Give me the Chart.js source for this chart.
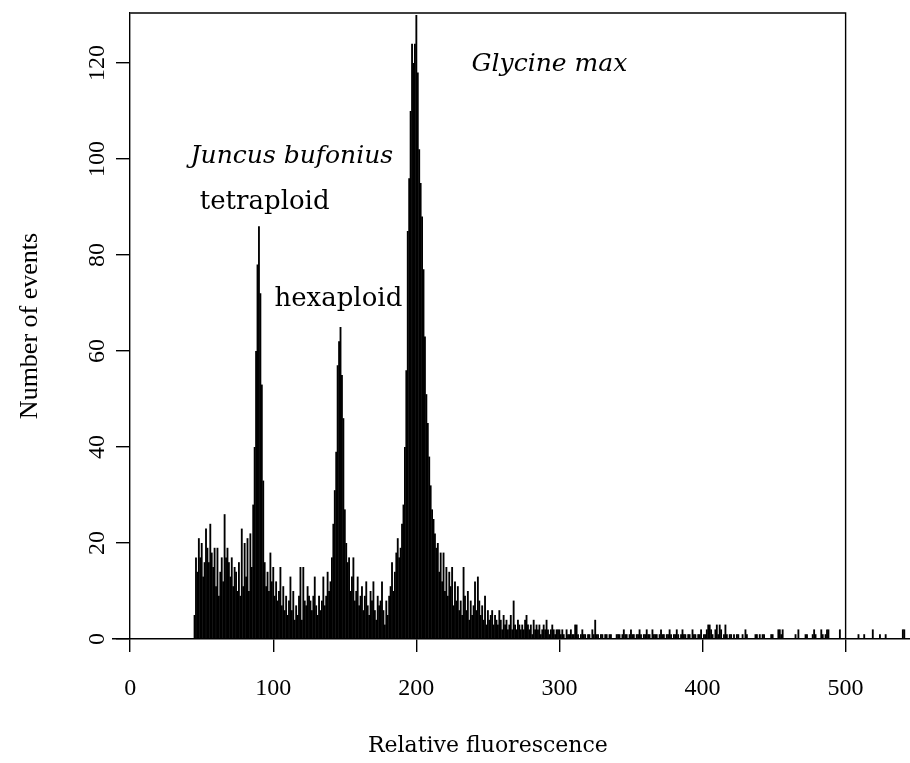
<!DOCTYPE html>
<html>
<head>
<meta charset="utf-8">
<script src="https://cdn.jsdelivr.net/npm/chart.js@4"></script>
<style>
  html, body { margin: 0; padding: 0; background: #fff; }
  #wrap { width: 910px; height: 763px; }
</style>
</head>
<body>
<div id="wrap"><canvas id="c" width="910" height="763"></canvas></div>
<script>
// ---- data ----
const firstChannel = 45;
// counts per channel, channels 45..299
const countsMain = [
  5, 17, 14, 21, 17, 20, 13, 16, 23, 19,
  16, 24, 18, 15, 19, 11, 19, 9, 14, 17,
  12, 26, 17, 19, 16, 13, 17, 11, 15, 14,
  10, 16, 9, 23, 11, 20, 13, 21, 10, 22,
  15, 28, 40, 60, 78, 86, 72, 53, 33, 16,
  11, 14, 10, 18, 12, 15, 9, 12, 8, 10,
  15, 7, 11, 6, 9, 5, 8, 13, 6, 10,
  4, 7, 5, 9, 15, 4, 15, 8, 7, 11,
  9, 8, 6, 9, 13, 7, 5, 9, 6, 8,
  13, 7, 9, 14, 10, 12, 17, 24, 31, 39,
  57, 62, 65, 55, 46, 27, 20, 16, 17, 10,
  13, 17, 8, 10, 13, 7, 9, 11, 6, 9,
  12, 7, 5, 10, 8, 12, 6, 4, 9, 7,
  8, 12, 6, 3, 8, 5, 9, 11, 16, 10,
  14, 18, 21, 17, 19, 24, 28, 40, 56, 85,
  96, 110, 124, 120, 124, 130, 118, 102, 95, 88,
  77, 63, 51, 45, 38, 32, 27, 25, 22, 19,
  20, 14, 18, 12, 18, 10, 15, 9, 14, 11,
  15, 7, 12, 8, 11, 6, 8, 5, 15, 9,
  6, 10, 4, 8, 5, 7, 12, 6, 13, 8,
  5, 7, 4, 9, 3, 6, 4, 5, 6, 3,
  5, 4, 3, 6, 4, 2, 5, 3, 4, 2,
  3, 5, 2, 8, 3, 2, 4, 3, 2, 3,
  2, 4, 5, 3, 2, 3, 1, 4, 2, 3,
  2, 3, 1, 2, 3, 2, 4, 2, 1, 2,
  3, 2, 1, 2, 2
];
// counts per channel, channels 300..541
const countsTail = [
  2, 1, 2, 1, 0, 2, 1, 1, 2, 1,
  1, 3, 3, 1, 0, 1, 2, 1, 1, 0,
  1, 1, 0, 2, 1, 4, 1, 1, 0, 1,
  1, 0, 1, 1, 0, 1, 1, 0, 0, 0,
  1, 1, 1, 0, 1, 2, 1, 1, 0, 1,
  2, 1, 1, 0, 1, 1, 2, 1, 0, 1,
  1, 2, 1, 1, 0, 2, 1, 1, 1, 0,
  1, 2, 1, 1, 0, 1, 1, 2, 1, 0,
  1, 1, 2, 1, 0, 1, 2, 1, 1, 0,
  1, 1, 0, 2, 1, 1, 0, 1, 1, 2,
  0, 1, 1, 2, 3, 3, 2, 1, 0, 2,
  3, 1, 3, 2, 0, 1, 3, 1, 0, 1,
  1, 0, 1, 0, 1, 1, 0, 0, 1, 0,
  2, 1, 0, 0, 0, 0, 0, 1, 1, 0,
  1, 0, 1, 1, 0, 0, 0, 0, 1, 1,
  0, 0, 0, 2, 2, 1, 2, 0, 0, 0,
  0, 0, 0, 0, 0, 1, 0, 2, 0, 0,
  0, 0, 1, 1, 0, 0, 0, 1, 2, 1,
  0, 0, 0, 2, 1, 0, 1, 2, 2, 0,
  0, 0, 0, 0, 0, 0, 2, 0, 0, 0,
  0, 0, 0, 0, 0, 0, 0, 0, 0, 1,
  0, 0, 0, 1, 0, 0, 0, 0, 0, 2,
  0, 0, 0, 0, 1, 0, 0, 0, 1, 0,
  0, 0, 0, 0, 0, 0, 0, 0, 0, 0,
  2, 2
];
const xTicks = [0, 100, 200, 300, 400, 500];
const yTicks = [0, 20, 40, 60, 80, 100, 120];
const xTitle = 'Relative fluorescence';
const yTitle = 'Number of events';
const annotations = [
  { text: 'Juncus bufonius', x: 113, y: 100.5, italic: true, size: 25 },
  { text: 'tetraploid', x: 94, y: 91, italic: false, size: 26 },
  { text: 'hexaploid', x: 145.5, y: 70.8, italic: false, size: 26 },
  { text: 'Glycine max', x: 293, y: 119.7, italic: true, size: 25 }
];

// ---- build ----
const counts = countsMain.concat(countsTail);
const points = counts.map((c, i) => ({ x: firstChannel + i, y: c }));

const numFont = '"Liberation Serif", "Times New Roman", serif';
const wordFont = '"DejaVu Serif", serif';

const framePlugin = {
  id: 'frame',
  afterDraw(chart) {
    const { ctx, chartArea } = chart;
    const xs = chart.scales.x, ys = chart.scales.y;
    const x0 = xs.getPixelForValue(0);
    const x500 = xs.getPixelForValue(500);
    ctx.save();
    ctx.strokeStyle = '#000';
    ctx.lineWidth = 1.4;
    ctx.beginPath();
    ctx.moveTo(x0, chartArea.top);
    ctx.lineTo(x500, chartArea.top);
    ctx.lineTo(x500, chartArea.bottom);
    ctx.stroke();

    // y tick labels (rotated, reading upward)
    ctx.fillStyle = '#000';
    ctx.font = '24px ' + numFont;
    ctx.textAlign = 'center';
    ctx.textBaseline = 'middle';
    yTicks.forEach(v => {
      ctx.save();
      ctx.translate(x0 - 32, ys.getPixelForValue(v));
      ctx.rotate(-Math.PI / 2);
      ctx.fillText(String(v), 0, 0);
      ctx.restore();
    });

    // y title
    ctx.save();
    ctx.font = '26px ' + numFont;
    ctx.translate(30, (chartArea.top + chartArea.bottom) / 2);
    ctx.rotate(-Math.PI / 2);
    ctx.fillText(yTitle, 0, 0);
    ctx.restore();

    // x title
    ctx.font = '22px ' + wordFont;
    ctx.fillText(xTitle, (x0 + x500) / 2, 746);

    // annotations
    annotations.forEach(a => {
      ctx.font = (a.italic ? 'italic ' : '') + a.size + 'px ' + wordFont;
      ctx.fillText(a.text, xs.getPixelForValue(a.x), ys.getPixelForValue(a.y));
    });
    ctx.restore();
  }
};

new Chart(document.getElementById('c'), {
  type: 'bar',
  data: {
    datasets: [{
      data: points,
      backgroundColor: '#000',
      borderWidth: 0,
      barPercentage: 1.3,
      categoryPercentage: 1.0
    }]
  },
  options: {
    responsive: false,
    animation: false,
    events: [],
    layout: { padding: { top: 13, left: 113, right: 0, bottom: 0 } },
    plugins: { legend: { display: false }, tooltip: { enabled: false } },
    scales: {
      x: {
        type: 'linear',
        min: -12,
        max: 545,
        offset: false,
        afterBuildTicks: s => { s.ticks = xTicks.map(v => ({ value: v })); },
        afterFit: s => { s.height = 124; },
        grid: { display: true, offset: false, drawOnChartArea: false, drawTicks: true, tickLength: 13, color: '#000', lineWidth: 1.4 },
        border: { display: true, color: '#000', width: 1.4 },
        ticks: { color: '#000', font: { family: numFont, size: 24 }, padding: 22, maxRotation: 0, autoSkip: false }
      },
      y: {
        type: 'linear',
        position: { x: 0 },
        min: 0,
        max: 130.4,
        afterBuildTicks: s => { s.ticks = yTicks.map(v => ({ value: v })); },
        grid: { display: true, drawOnChartArea: false, drawTicks: true, tickLength: 13, color: '#000', lineWidth: 1.4 },
        border: { display: true, color: '#000', width: 1.4 },
        ticks: { display: false }
      }
    }
  },
  plugins: [framePlugin]
});
</script>
</body>
</html>
